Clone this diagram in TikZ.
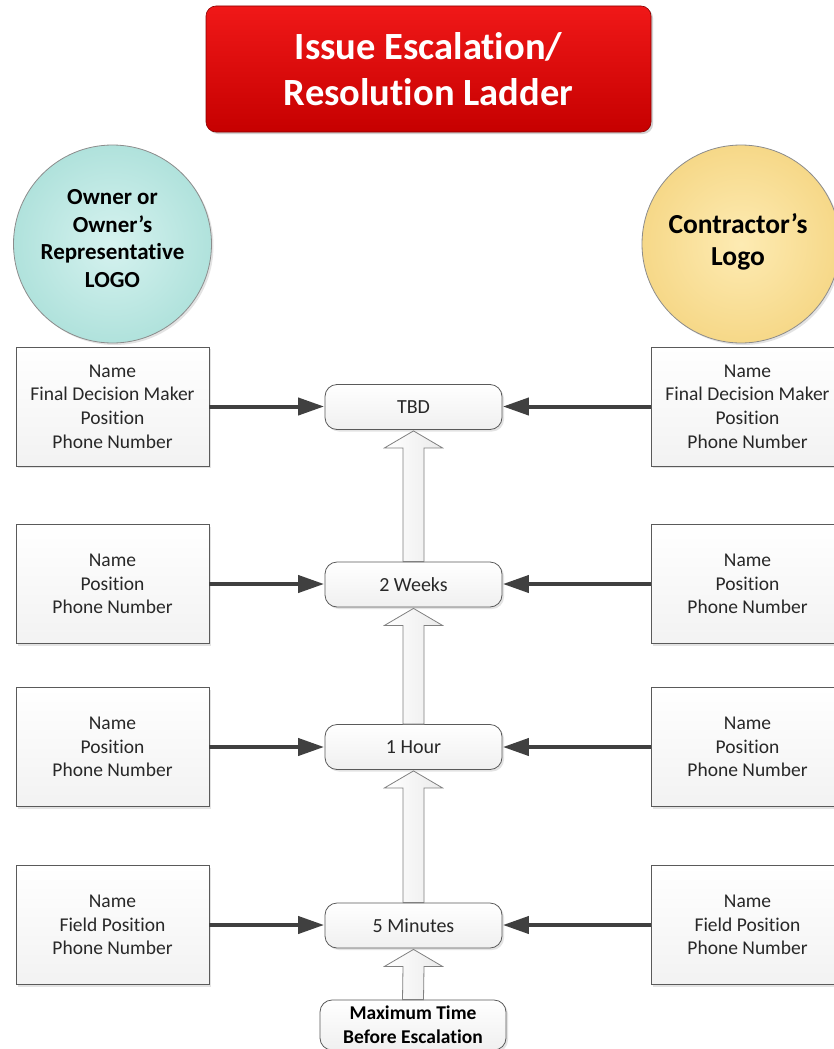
\documentclass[tikz,border=0pt]{standalone}
\usepackage{fontspec}
\setmainfont{Carlito}[Ligatures=NoCommon]
\usetikzlibrary{arrows.meta,calc,shadows}

\definecolor{titletop}{RGB}{240,24,24}
\definecolor{titlebot}{RGB}{198,0,0}
\definecolor{ownerfill}{RGB}{200,238,234}
\definecolor{ownerdark}{RGB}{176,226,220}
\definecolor{contrfill}{RGB}{253,230,160}
\definecolor{contrdark}{RGB}{246,216,136}
\definecolor{linkgray}{RGB}{64,64,64}
\definecolor{edgegray}{RGB}{90,90,90}
\definecolor{textgray}{RGB}{40,40,40}

\tikzset{
  softshadow/.style={drop shadow={opacity=0.22,shadow xshift=2pt,shadow yshift=-2pt}},
  person/.style={rectangle, draw=edgegray, line width=0.8pt,
    top color=white, bottom color=black!5, softshadow,
    minimum width=193pt, minimum height=119pt, inner sep=0pt,
    align=center, text=textgray,
    font=\fontsize{19.5}{23.7}\selectfont},
  stage/.style={rectangle, rounded corners=12pt, draw=edgegray, line width=0.8pt,
    top color=white, bottom color=black!6, softshadow,
    minimum width=177pt, minimum height=45pt, inner sep=0pt,
    align=center, text=textgray,
    font=\fontsize{20}{24}\selectfont},
  logo/.style={circle, draw=black!45, line width=0.8pt, minimum size=198pt,
    inner sep=0pt, softshadow},
  logotext/.style={align=center, inner sep=0pt, text=black},
  link/.style={draw=linkgray, line width=4pt,
    -{Triangle[length=26pt,width=17pt]}, shorten >=0.5pt},
  blockarr/.style={draw=black!50, line width=0.8pt,
    left color=white, right color=black!8}
}

% hollow upward block arrow from the top of #1 to the bottom of #2
\newcommand{\ladderstep}[2]{%
  \path[blockarr]
    ($(#2.south)+(0,1)$) -- ($(#2.south)+(29,18)$) -- ($(#2.south)+(10.5,18)$)
    -- ($(#1.north)+(10.5,0)$) -- ($(#1.north)+(-10.5,0)$)
    -- ($(#2.south)+(-10.5,18)$) -- ($(#2.south)+(-29,18)$) -- cycle;}

\begin{document}
\begin{tikzpicture}[x=1pt,y=-1pt]
\useasboundingbox[fill=white] (0,0) rectangle (834,1049);

% title banner
\node[rectangle, rounded corners=10pt, draw=titlebot!70!black, line width=0.6pt,
      top color=titletop, bottom color=titlebot,
      drop shadow={opacity=0.35,shadow xshift=2pt,shadow yshift=-2pt},
      minimum width=445pt, minimum height=126pt, align=center, text=white,
      font=\fontsize{38.5}{46}\selectfont\bfseries]
  (title) at (428.5,69) {Issue Escalation/\\Resolution Ladder};

% logos
\node[logo, inner color=ownerfill!75!white, outer color=ownerdark] (owner) at (112.5,244) {};
\node[logotext, font=\fontsize{23}{27.5}\selectfont\bfseries]
  (ownertxt) at (112.5,238.5) {Owner or\\Owner’s\\Representative\\LOGO};
\node[logo, inner color=contrfill!80!white, outer color=contrdark] (contr) at (741,244) {};
\node[logotext, font=\fontsize{27.5}{32}\selectfont\bfseries]
  (contrtxt) at (738,242) {Contractor’s\\Logo};

% escalation stages
\node[stage] (tbd)   at (413.5,407) {TBD};
\node[stage] (weeks) at (413.5,584.5) {2 Weeks};
\node[stage] (hour)  at (413.5,747) {1 Hour};
\node[stage] (mins)  at (413.5,925.5) {5 Minutes};
\node[stage, minimum width=186pt, minimum height=50pt, text=black,
      font=\fontsize{19.5}{24}\selectfont\bfseries]
  (maxt) at (413,1025) {Maximum Time\\Before Escalation};

% owner side contacts
\node[person] (o1) at (112.5,406.5) {Name\\Final Decision Maker\\Position\\Phone Number};
\node[person] (o2) at (112.5,584) {Name\\Position\\Phone Number};
\node[person] (o3) at (112.5,747) {Name\\Position\\Phone Number};
\node[person] (o4) at (112.5,925) {Name\\Field Position\\Phone Number};

% contractor side contacts
\node[person] (c1) at (747.5,406.5) {Name\\Final Decision Maker\\Position\\Phone Number};
\node[person] (c2) at (747.5,584) {Name\\Position\\Phone Number};
\node[person] (c3) at (747.5,747) {Name\\Position\\Phone Number};
\node[person] (c4) at (747.5,925) {Name\\Field Position\\Phone Number};

% contacts feed their stage
\foreach \o/\s in {o1/tbd,o2/weeks,o3/hour,o4/mins}
  \draw[link] (\o.east) -- (\o.east -| \s.west);
\foreach \c/\s in {c1/tbd,c2/weeks,c3/hour,c4/mins}
  \draw[link] (\c.west) -- (\c.west -| \s.east);

% escalation ladder
\ladderstep{weeks}{tbd}
\ladderstep{hour}{weeks}
\ladderstep{mins}{hour}
\ladderstep{maxt}{mins}
\end{tikzpicture}
\end{document}
